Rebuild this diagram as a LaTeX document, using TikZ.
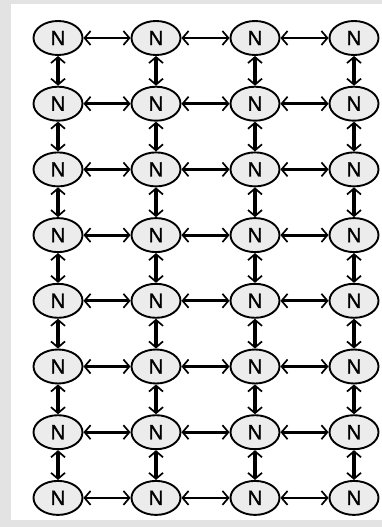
\documentclass[tikz,border=0pt]{standalone}
\usepackage{fontspec}
\setmainfont{Liberation Sans}
\newfontfamily\nodefont{Liberation Sans}[FakeBold=1.5]
\usetikzlibrary{shapes.geometric,arrows.meta}
\begin{document}
\begin{tikzpicture}[x=1pt,y=-1pt,
  nd/.style={ellipse,draw=black,line width=1.9pt,fill=gray!15,
    minimum width=49pt,minimum height=34pt,inner sep=0pt,
    font=\nodefont\fontsize{20.5}{20.5}\selectfont},
  link/.style={{Straight Barb[length=6pt,width=14pt,line width=1.7pt]}-{Straight Barb[length=6pt,width=14pt,line width=1.7pt]}},
  hlink/.style={link,line width=2.8pt},
  vlink/.style={link,line width=4pt}]
  % canvas
  \fill[gray!22] (0,0) rectangle (382,527);
  \fill[white] (11,4) rectangle (382,520);
  \useasboundingbox (0,0) rectangle (382,527);
  % grid of nodes
  \foreach \c/\x in {1/58,2/156,3/255,4/354}{
    \foreach \r in {1,...,8}{
      \node[nd] (n\c\r) at (\x,{38+(\r-1)*65.7}) {N};
    }
  }
  % horizontal links
  \foreach \r in {1,...,8}{
    \foreach \c/\d in {1/2,2/3,3/4}{
      \draw[hlink] (n\c\r) -- (n\d\r);
    }
  }
  % vertical links
  \foreach \c in {1,...,4}{
    \foreach \r/\s in {1/2,2/3,3/4,4/5,5/6,6/7,7/8}{
      \draw[vlink] (n\c\r) -- (n\c\s);
    }
  }
\end{tikzpicture}
\end{document}
